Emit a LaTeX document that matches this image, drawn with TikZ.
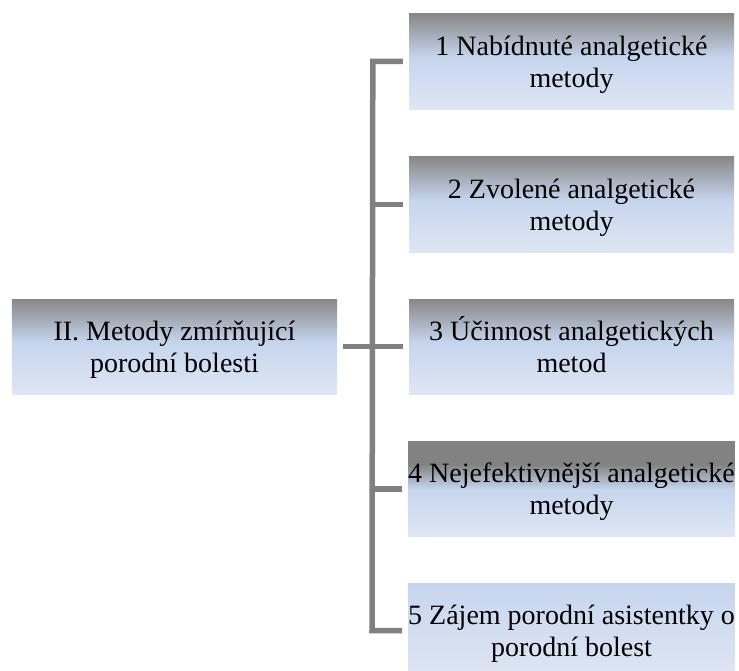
\documentclass[tikz,border=0pt]{standalone}
\usepackage{fontspec}
\setmainfont{Liberation Serif}
% line struts: the first line carries a little more headroom
\newcommand\tstrut{\rule[-6bp]{0pt}{32bp}}
\newcommand\bstrut{\rule[-6bp]{0pt}{26bp}}
% colours of the box fills and the connector lines
\definecolor{fillgray}{HTML}{888888}
\definecolor{fillgraydark}{HTML}{828282}
\definecolor{fillblue}{HTML}{C6D5EE}
\definecolor{filllight}{HTML}{DFE6F3}
\definecolor{linegray}{HTML}{808080}
% vertical fills, bottom to top; the span 25bp..75bp covers the box
\pgfdeclareverticalshading{boxfill}{100bp}{color(0bp)=(filllight); color(25bp)=(filllight); color(52bp)=(fillblue); color(75bp)=(fillgray); color(100bp)=(fillgray)}
\pgfdeclareverticalshading{boxfilldark}{100bp}{color(0bp)=(filllight); color(25bp)=(filllight); color(50bp)=(fillblue); color(63bp)=(fillgraydark); color(75bp)=(fillgraydark); color(100bp)=(fillgraydark)}
\pgfdeclareverticalshading{boxfilllow}{100bp}{color(0bp)=(filllight); color(25bp)=(filllight); color(75bp)=(fillblue); color(100bp)=(fillblue)}
\begin{document}
\begin{tikzpicture}[x=1bp,y=-1bp,
  box/.style={rectangle, inner sep=0pt, minimum width=325bp, minimum height=95bp,
    shading=boxfill, align=center, font=\fontsize{28bp}{32bp}\selectfont},
  conn/.style={draw=linegray, line width=5.5bp, line join=miter, line cap=butt}]
\useasboundingbox (0,0) rectangle (739,671);
\clip (0,0) rectangle (739,671);

\node[box] (root) at (174.5,346.5) {\tstrut II. Metody zmírňující\\\bstrut porodní bolesti};

\node[box] (b1) at (571.5,61.5) {\tstrut 1 Nabídnuté analgetické\\\bstrut metody};
\node[box] (b2) at (571.5,204.5) {\tstrut 2 Zvolené analgetické\\\bstrut metody};
\node[box] (b3) at (571.5,346.5) {\tstrut 3 Účinnost analgetických\\\bstrut metod};
\node[box, shading=boxfilldark] (b4) at (571.5,489) {\tstrut 4 Nejefektivnější analgetické\\\bstrut metody};
\node[box, shading=boxfilllow] (b5) at (571.5,630.5) {\tstrut 5 Zájem porodní asistentky o\\\bstrut porodní bolest};

% bracket joining the five topics
\draw[conn] ([xshift=-6bp]b1.west) -- ([xshift=-36bp]b1.west)
  -- ([xshift=-36bp]b5.west) -- ([xshift=-6bp]b5.west);
\foreach \b in {b2,b3,b4}
  \draw[conn] ([xshift=-6bp]\b.west) -- ([xshift=-36bp]\b.west);
\draw[conn] ([xshift=6bp]root.east) -- ([xshift=-36bp]b3.west);
\end{tikzpicture}
\end{document}
